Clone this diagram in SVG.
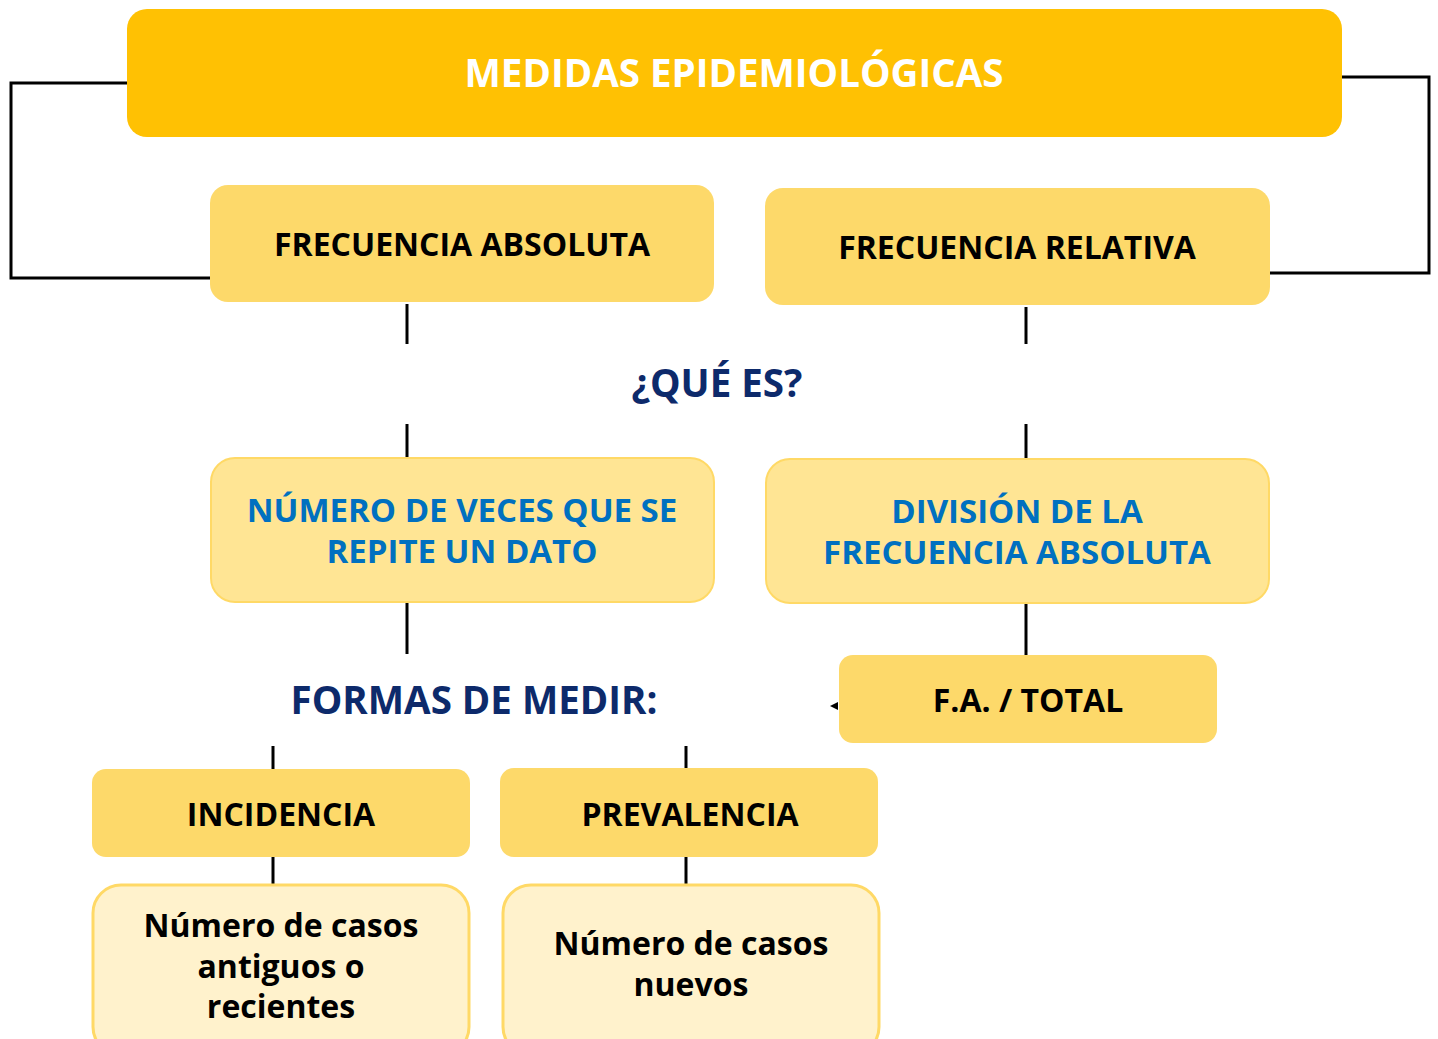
<svg xmlns="http://www.w3.org/2000/svg" width="1438" height="1039" viewBox="0 0 1438 1039">
<defs>
<style>
.t{font-family:"Open Sans","Noto Sans","Liberation Sans",sans-serif;font-weight:700;text-anchor:middle}
.title{fill:#FFFFFF;font-size:38.5px}
.lbl{fill:#000000;font-size:32px}
.blue{fill:#0070C0;font-size:33px}
.navy{fill:#0D2A6B;font-size:38.5px}
.desc{fill:#000000;font-size:32px}
.b1{fill:#FDD96A}
.b2{fill:#FFE594;stroke:#FFD966;stroke-width:2}
.b3{fill:#FFF2CC;stroke:#FFD966;stroke-width:3}
.ln{stroke:#000000;stroke-width:3;fill:none}
</style>
</defs>
<g id="connectors">
<polyline class="ln" points="127,83 11,83 11,278 210,278"/>
<polyline class="ln" points="1342,77 1429,77 1429,273 1270,273"/>
<line class="ln" x1="407" y1="304" x2="407" y2="344"/>
<line class="ln" x1="407" y1="424" x2="407" y2="457"/>
<line class="ln" x1="1026" y1="307" x2="1026" y2="344"/>
<line class="ln" x1="1026" y1="424" x2="1026" y2="458"/>
<line class="ln" x1="407" y1="603" x2="407" y2="654"/>
<line class="ln" x1="1026" y1="604" x2="1026" y2="655"/>
<line class="ln" x1="273" y1="746" x2="273" y2="769"/>
<line class="ln" x1="686" y1="746" x2="686" y2="768"/>
<line class="ln" x1="273" y1="857" x2="273" y2="885"/>
<line class="ln" x1="686" y1="857" x2="686" y2="885"/>
<path d="M838,702 L830,706 L838,710 Z" fill="#000"/>
</g>
<g id="title"><rect x="127" y="9" width="1215" height="128" rx="20" fill="#FFC103"/><text class="t title" x="734" y="87">MEDIDAS EPIDEMIOLÓGICAS</text></g>
<g id="fa"><rect class="b1" x="210" y="185" width="504" height="117" rx="18"/><text class="t lbl" x="462" y="256">FRECUENCIA ABSOLUTA</text></g>
<g id="fr"><rect class="b1" x="765" y="188" width="505" height="117" rx="18"/><text class="t lbl" x="1017" y="259">FRECUENCIA RELATIVA</text></g>
<g id="quees"><text class="t navy" x="717" y="397">¿QUÉ ES?</text></g>
<g id="numero"><rect class="b2" x="211" y="458" width="503" height="144" rx="24"/><text class="t blue" x="462" y="522">NÚMERO DE VECES QUE SE</text><text class="t blue" x="462" y="563">REPITE UN DATO</text></g>
<g id="division"><rect class="b2" x="766" y="459" width="503" height="144" rx="24"/><text class="t blue" x="1017" y="523">DIVISIÓN DE LA</text><text class="t blue" x="1017" y="564">FRECUENCIA ABSOLUTA</text></g>
<g id="fatotal"><rect class="b1" x="839" y="655" width="378" height="88" rx="14"/><text class="t lbl" x="1028" y="712">F.A. / TOTAL</text></g>
<g id="formas"><text class="t navy" x="474" y="714">FORMAS DE MEDIR:</text></g>
<g id="incidencia"><rect class="b1" x="92" y="769" width="378" height="88" rx="14"/><text class="t lbl" x="281" y="826">INCIDENCIA</text></g>
<g id="prevalencia"><rect class="b1" x="500" y="768" width="378" height="89" rx="14"/><text class="t lbl" x="690" y="826">PREVALENCIA</text></g>
<g id="inc-desc"><rect class="b3" x="93" y="885" width="376" height="170" rx="28"/><text class="t desc" x="281" y="937">Número de casos</text><text class="t desc" x="281" y="978">antiguos o</text><text class="t desc" x="281" y="1018">recientes</text></g>
<g id="prev-desc"><rect class="b3" x="503" y="885" width="376" height="170" rx="28"/><text class="t desc" x="691" y="955">Número de casos</text><text class="t desc" x="691" y="996">nuevos</text></g>
</svg>
